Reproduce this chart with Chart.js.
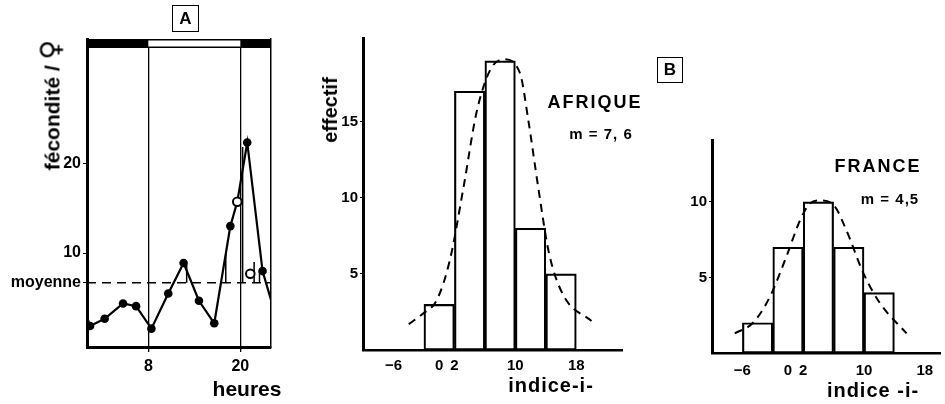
<!DOCTYPE html>
<html>
<head>
<meta charset="utf-8">
<script src="https://cdn.jsdelivr.net/npm/chart.js@4.4.1/dist/chart.umd.min.js"></script>
<style>
  body { margin: 0; background: #fff; }
  #wrap { position: relative; width: 945px; height: 404px; overflow: hidden;
          font-family: "Liberation Sans", Arial, sans-serif; font-weight: bold; color: #000; }
  canvas { position: absolute; top: 0; }
  .c { position: absolute; white-space: nowrap; line-height: 1; transform: translate(-50%, -50%); }
  .rot { transform: translate(-50%, -50%) rotate(-90deg); }
  .box { position: absolute; border: 1.5px solid #000; text-align: center; font-size: 17px; box-sizing: border-box; }
  .sym { font-size: 27px; font-family: "DejaVu Sans", sans-serif; }
</style>
</head>
<body>
<div id="wrap">
  <canvas id="chartA" width="290" height="404" style="left:0"></canvas>
  <canvas id="chartAfrique" width="350" height="404" style="left:290px"></canvas>
  <canvas id="chartFrance" width="305" height="404" style="left:640px"></canvas>

  <div class="box" style="left:172px;top:5px;width:27px;height:27px;line-height:25px">A</div>
  <div class="c rot" style="left:50px;top:105px;font-size:21px">fécondité / <span class="sym">♀</span></div>
  <div class="c" style="left:247px;top:388px;font-size:21px">heures</div>

  <div class="box" style="left:657px;top:57px;width:26px;height:26px;line-height:24px">B</div>
  <div class="c rot" style="left:330px;top:110px;font-size:20px">effectif</div>
  <div class="c" style="left:595px;top:102px;font-size:18px;letter-spacing:2px">AFRIQUE</div>
  <div class="c" style="left:601px;top:133px;font-size:15px;letter-spacing:1px">m = 7, 6</div>
  <div class="c" style="left:551px;top:385px;font-size:20px;letter-spacing:1px">indice-i-</div>

  <div class="c" style="left:878px;top:166px;font-size:18px;letter-spacing:2px">FRANCE</div>
  <div class="c" style="left:890px;top:198px;font-size:15px;letter-spacing:1px">m = 4,5</div>
  <div class="c" style="left:873px;top:390px;font-size:20px;letter-spacing:1px">indice -i-</div>
</div>

<script>
// A : fécondité par femelle au cours des 24 heures
const heures = [0, 0.4, 2.3, 4.7, 6.4, 8.4, 10.6, 12.6, 14.6, 16.6, 18.7, 19.6, 20.9, 22.9, 24];
const fecondite = [2.9, 1.9, 2.7, 4.4, 4.1, 1.6, 5.5, 8.9, 4.7, 2.2, 13.0, 15.7, 22.3, 8.0, 4.8];
const moyenne = 6.7;
const heuresTicks = [8, 20];
const feconditeTicks = [moyenne, 10, 20];
const periodes = [[0, 8, 'nuit'], [8, 20, 'jour'], [20, 24, 'nuit']];
const ecartsHeures = [13.0, 18.1, 20.3, 21.8, 22.5];
const ecartsHaut = [8.7, 10.1, 21.8, 9.0, 8.0];
const cerclesHeures = [19.6, 21.3];
const cerclesValeurs = [15.7, 7.7];

// B : distribution de l'indice i
const classesAfrique = [0, 4, 8, 12, 16];
const effectifAfrique = [3, 17, 19, 8, 5];
const courbeAfriqueX = [-4.0, -2.1, -0.3, 1.4, 3.2, 4.9, 6.7, 8.5, 10.6, 11.7, 13.0, 14.4, 16.3, 20.0];
const courbeAfriqueY = [1.7, 2.4, 3.3, 5.9, 10.7, 15.6, 18.4, 19.1, 18.2, 15.1, 10.7, 6.4, 3.6, 1.9];
const classesFrance = [-4, 0, 4, 8, 12];
const effectifFrance = [2, 7, 10, 7, 4];
const courbeFranceX = [-7.0, -4.6, -2.4, -0.2, 1.6, 2.9, 4.2, 6.0, 7.7, 9.9, 12.1, 15.6];
const courbeFranceY = [1.3, 2.0, 3.7, 6.4, 8.8, 9.9, 10.1, 9.8, 8.1, 5.3, 3.3, 1.3];
const indiceTicks = [-6, 0, 2, 10, 18];
const effectifTicksAfrique = [5, 10, 15];
const effectifTicksFrance = [5, 10];
const largeurClasse = 4;

Chart.defaults.font.family = '"Liberation Sans", Arial, sans-serif';
Chart.defaults.font.weight = 'bold';
Chart.defaults.color = '#000';

const bandeY = 33.3;
const pts = (xs, ys) => xs.map((x, i) => ({ x, y: ys[i] }));

// segments verticaux : écart à la moyenne
const ecartsPoints = [];
ecartsHeures.forEach((h, i) => {
  ecartsPoints.push({ x: h, y: ecartsHaut[i] }, { x: h, y: moyenne }, { x: h, y: null });
});
const jourPoints = [];
periodes.filter(p => p[2] === 'jour').forEach(p => {
  jourPoints.push({ x: p[0], y: bandeY }, { x: p[1], y: bandeY }, { x: p[1], y: null });
});

new Chart(document.getElementById('chartA'), {
  type: 'line',
  data: {
    datasets: [
      { data: pts(cerclesHeures, cerclesValeurs), showLine: false, pointRadius: 4.3, pointBorderWidth: 2,
        pointBorderColor: '#000', pointBackgroundColor: '#fff', order: 0 },
      { data: pts(heures, fecondite), borderColor: '#000', borderWidth: 2.2, pointBackgroundColor: '#000',
        pointBorderWidth: 0, tension: 0,
        pointRadius: c => (c.dataIndex === 0 || c.dataIndex === heures.length - 1 ||
          cerclesHeures.includes(heures[c.dataIndex])) ? 0 : 4.3, order: 1 },
      { data: ecartsPoints, borderColor: '#000', borderWidth: 1.5, pointRadius: 0, spanGaps: false, order: 2 },
      { data: [{ x: 0, y: moyenne }, { x: 24, y: moyenne }], borderColor: '#000', borderWidth: 1.5,
        borderDash: [9, 6], pointRadius: 0, order: 3 },
      { data: jourPoints, borderColor: '#fff', borderWidth: 6, borderCapStyle: 'butt', pointRadius: 0, order: 4 },
      { data: [{ x: periodes[0][0], y: bandeY }, { x: periodes[periodes.length - 1][1], y: bandeY }],
        borderColor: '#000', borderWidth: 9, borderCapStyle: 'butt', pointRadius: 0, order: 5 }
    ]
  },
  options: {
    responsive: false,
    animation: false,
    layout: { padding: { top: 39, right: 19 } },
    plugins: { legend: { display: false }, tooltip: { enabled: false } },
    scales: {
      x: {
        type: 'linear', min: 0, max: 24,
        afterFit: s => { s.height = 57; },
        afterBuildTicks: s => { s.ticks = heuresTicks.map(value => ({ value })); },
        ticks: { font: { size: 16 }, padding: 5 },
        grid: { color: '#000', lineWidth: 1.3, tickLength: 5 },
        border: { color: '#000', width: 3 }
      },
      y: {
        min: -0.44, max: 33.8,
        afterFit: s => { s.width = 87; },
        afterBuildTicks: s => { s.ticks = feconditeTicks.map(value => ({ value })); },
        ticks: { font: { size: 16 }, padding: 2, callback: v => v === moyenne ? 'moyenne' : String(v) },
        grid: { drawOnChartArea: false, color: '#000', tickLength: 4 },
        border: { color: '#000', width: 3 }
      },
      y2: {
        position: 'right',
        afterFit: s => { s.width = 0; },
        ticks: { display: false },
        grid: { display: false },
        border: { color: '#000', width: 1.5 }
      }
    }
  }
});

function histogramme(id, classes, effectifs, courbeX, courbeY, yTicks, cadre) {
  const chart = new Chart(document.getElementById(id), {
    type: 'bar',
    data: {
      datasets: [
        { type: 'line', data: pts(courbeX, courbeY), borderColor: '#000', borderWidth: 2, borderDash: [8, 6],
          pointRadius: 0, cubicInterpolationMode: 'monotone', order: 0 },
        { type: 'bar', data: pts(classes, effectifs), backgroundColor: 'rgba(255,255,255,0)',
          borderColor: '#000', borderWidth: 1.5, borderSkipped: false,
          barPercentage: 1, categoryPercentage: 1, order: 1 }
      ]
    },
    options: {
      responsive: false,
      animation: false,
      layout: { padding: { top: cadre.top, right: cadre.right } },
      plugins: { legend: { display: false }, tooltip: { enabled: false } },
      scales: {
        x: {
          type: 'linear', offset: false, min: -10, max: cadre.xMax,
          afterFit: s => { s.height = cadre.bas; },
          afterBuildTicks: s => { s.ticks = indiceTicks.map(value => ({ value })); },
          ticks: { font: { size: 15 }, padding: cadre.tickPad, callback: v => v < 0 ? '\u2212' + (-v) : String(v) },
          grid: { display: false, drawTicks: false },
          border: { color: '#000', width: 2.5 }
        },
        y: {
          min: 0, max: cadre.yMax,
          afterFit: s => { s.width = cadre.gauche; },
          afterBuildTicks: s => { s.ticks = yTicks.map(value => ({ value })); },
          ticks: { font: { size: 15 }, padding: 2 },
          grid: { drawOnChartArea: false, color: '#000', tickLength: 3 },
          border: { color: '#000', width: 3 }
        }
      }
    }
  });
  // une barre couvre exactement une classe de l'indice
  const x = chart.scales.x;
  chart.data.datasets[1].barThickness = x.getPixelForValue(largeurClasse) - x.getPixelForValue(0);
  chart.update('none');
}

histogramme('chartAfrique', classesAfrique, effectifAfrique, courbeAfriqueX, courbeAfriqueY, effectifTicksAfrique,
  { top: 38, right: 18, bas: 54, gauche: 73, xMax: 24, yMax: 20.5, tickPad: 7 });
histogramme('chartFrance', classesFrance, effectifFrance, courbeFranceX, courbeFranceY, effectifTicksFrance,
  { top: 140, right: 5, bas: 51, gauche: 72, xMax: 20, yMax: 14.1, tickPad: 9 });
</script>
</body>
</html>
